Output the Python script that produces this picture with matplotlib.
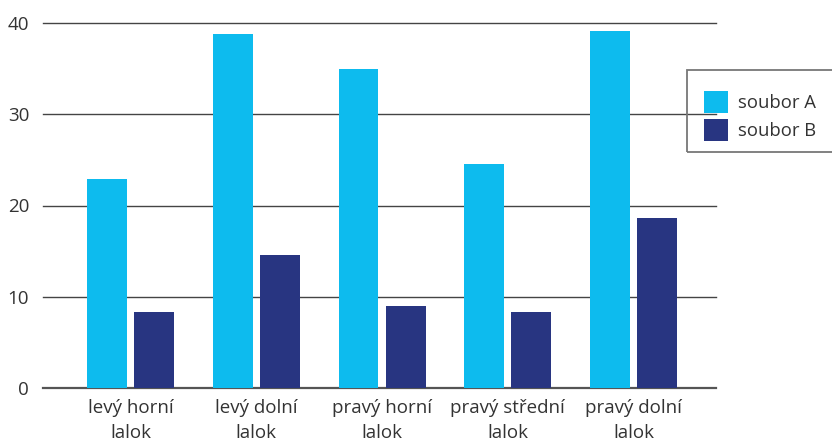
import matplotlib
matplotlib.use("Agg")
import matplotlib.pyplot as plt
from matplotlib.patches import Rectangle
import numpy as np

categories = ["levý horní\nlalok", "levý dolní\nlalok", "pravý horní\nlalok",
              "pravý střední\nlalok", "pravý dolní\nlalok"]
soubor_a = [22.9, 38.8, 34.9, 24.5, 39.1]
soubor_b = [8.35, 14.6, 9.0, 8.35, 18.6]
series_names = ["soubor A", "soubor B"]
yticks = [0, 10, 20, 30, 40]

col_a = "#0DBBEE"
col_b = "#283581"
txt = "#333333"

plt.rcParams['font.family'] = ['Open Sans', 'DejaVu Sans']
plt.rcParams['font.size'] = 13.5

fig = plt.figure(figsize=(8.32, 4.46), dpi=100)
ax = fig.add_axes([43/832, 1-388.3/446, (716-43)/832, (388.3-22.7)/446])

x = np.arange(len(categories))
w = 0.318
off = 0.187
ba = ax.bar(x - off, soubor_a, width=w, color=col_a, label=series_names[0], zorder=3)
bb = ax.bar(x + off, soubor_b, width=w, color=col_b, label=series_names[1], zorder=3)

ax.set_xlim(-0.696, len(categories) - 1 + 0.656)
ax.set_ylim(0, 40)
ax.set_yticks(yticks)
ax.set_yticklabels([str(t) for t in yticks], color=txt)
ax.set_xticks(x)
ax.set_xticklabels(categories, color=txt, linespacing=1.5)
ax.tick_params(axis='both', length=0)
ax.tick_params(axis='y', pad=10)
ax.tick_params(axis='x', pad=8)
for s in ax.spines.values():
    s.set_visible(False)
for t in yticks:
    ax.axhline(t, color="#444444" if t else "#555555", lw=1.0 if t else 1.6,
               zorder=2, clip_on=False)

leg = fig.legend(handles=[ba, bb], labels=series_names, loc='upper left',
                 bbox_to_anchor=(695/832, 1-82/446), frameon=False,
                 handlelength=1.3, handleheight=1.45, handletextpad=0.55,
                 labelspacing=0.3, borderpad=0, labelcolor=txt, fontsize=13.3)
fig.patches.append(Rectangle((687/832, 1-152/446), 160/832, 82/446,
                             transform=fig.transFigure, fill=False,
                             edgecolor="#777777", lw=1.3, clip_on=False))

fig.savefig("out.png", dpi=100)
